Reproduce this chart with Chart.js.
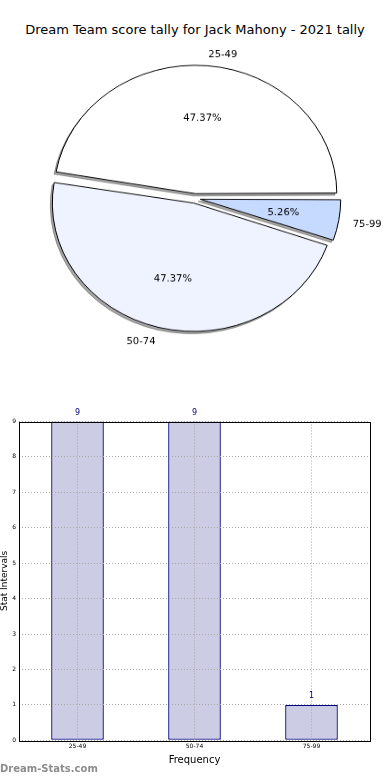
<!DOCTYPE html>
<html>
<head>
<meta charset="utf-8">
<script src="https://cdn.jsdelivr.net/npm/chart.js@4.4.0/dist/chart.umd.min.js"></script>
<style>
  body { margin: 0; background: #fff; width: 390px; height: 780px; position: relative; overflow: hidden; font-family: "DejaVu Sans", sans-serif; }
  #title { position: absolute; top: 21px; left: 0; width: 390px; text-align: center; font-size: 13px; line-height: 18px; color: #000; }
  #pieWrap { position: absolute; left: 0; top: 0; width: 390px; height: 437px; transform: scaleY(0.908); transform-origin: 0 0; }
  #barWrap { position: absolute; left: 0; top: 400px; width: 390px; height: 380px; }
  #mark { position: absolute; left: 0; top: 763px; font-size: 10px; line-height: 12px; font-weight: bold; color: #8c8c8c; }
</style>
</head>
<body>
<div id="title">Dream Team score tally for Jack Mahony - 2021 tally</div>
<div id="pieWrap"><canvas id="pie" width="390" height="437"></canvas></div>
<div id="barWrap"><canvas id="bar" width="390" height="380"></canvas></div>
<div id="mark">Dream-Stats.com</div>

<script>
// Data
const categories = ["25-49", "50-74", "75-99"];
const counts = [9, 9, 1];
const yMin = 0;
const yMax = 9;

const pieColors = ["#ffffff", "#eef3ff", "#c6d9ff"];
const font = "DejaVu Sans";
const squash = 0.908;   // matplotlib pie is an ellipse here

// pie goes clockwise in Chart.js, matplotlib went counter-clockwise
const pieLabels = categories.slice().reverse();
const pieCounts = counts.slice().reverse();
const pieFill = pieColors.slice().reverse();
const total = counts.reduce((a, b) => a + b, 0);

function squashText(ctx, text, x, y, align) {
    ctx.save();
    ctx.translate(x, y);
    ctx.scale(1, 1 / squash);
    ctx.textAlign = align;
    ctx.textBaseline = "middle";
    ctx.fillText(text, 0, 0);
    ctx.restore();
}

// shadow under the slices + labels on top
const pieDecor = {
    id: "pieDecor",
    beforeDatasetsDraw(chart) {
        let ctx = chart.ctx;
        chart.getDatasetMeta(0).data.forEach(arc => {
            let shadow = Object.create(arc);
            shadow.options = Object.assign({}, arc.options, {
                backgroundColor: "rgba(77,77,77,0.5)",
                borderColor: "rgba(77,77,77,0.5)"
            });
            ctx.save();
            ctx.translate(-2, 2.5);
            arc.draw.call(shadow, ctx);
            ctx.restore();
        });
    },
    afterDatasetsDraw(chart) {
        let ctx = chart.ctx;
        ctx.save();
        ctx.fillStyle = "#000";
        ctx.font = "10px '" + font + "'";
        chart.getDatasetMeta(0).data.forEach((arc, i) => {
            let shift = (arc.options.offset || 0) / 4;
            let r = arc.outerRadius + shift * (1 - Math.sin(Math.min(Math.PI, arc.circumference)));
            let mid = (arc.startAngle + arc.endAngle) / 2;
            let cx = arc.x + Math.cos(mid) * shift;
            let cy = arc.y + Math.sin(mid) * shift;

            let lx = cx + Math.cos(mid) * r * 1.1;
            let ly = cy + Math.sin(mid) * r * 1.1;
            squashText(ctx, pieLabels[i], lx, ly + 2, Math.cos(mid) > 0 ? "left" : "right");

            let pct = (pieCounts[i] / total * 100).toFixed(2) + "%";
            squashText(ctx, pct, cx + Math.cos(mid) * r * 0.6, cy + Math.sin(mid) * r * 0.6 + 1, "center");
        });
        ctx.restore();
    }
};

new Chart(document.getElementById("pie"), {
    type: "pie",
    data: {
        labels: pieLabels,
        datasets: [{
            data: pieCounts,
            backgroundColor: pieFill,
            borderColor: "#000",
            borderWidth: 1,
            offset: 21
        }]
    },
    options: {
        responsive: false,
        animation: false,
        rotation: 90,
        radius: 137,
        layout: { padding: 0 },
        plugins: { legend: { display: false }, tooltip: { enabled: false } }
    },
    plugins: [pieDecor]
});

// frame + value labels for the bars
const barDecor = {
    id: "barDecor",
    afterDraw(chart) {
        let ctx = chart.ctx;
        let a = chart.chartArea;
        ctx.save();
        ctx.strokeStyle = "#000";
        ctx.lineWidth = 1;
        ctx.strokeRect(Math.round(a.left) + 0.5, Math.round(a.top) + 0.5,
            Math.round(a.right - a.left), Math.round(a.bottom - a.top));
        ctx.fillStyle = "#000080";
        ctx.font = "8px '" + font + "'";
        ctx.textAlign = "center";
        ctx.textBaseline = "middle";
        chart.getDatasetMeta(0).data.forEach((bar, i) => {
            ctx.fillText(String(counts[i]), bar.x, bar.y - 8.5);
        });
        ctx.restore();
    }
};

new Chart(document.getElementById("bar"), {
    type: "bar",
    data: {
        labels: categories,
        datasets: [{
            data: counts,
            backgroundColor: "#cccce4",
            borderColor: "#000080",
            borderWidth: 1.3,
            borderSkipped: false,
            barPercentage: 0.45,
            categoryPercentage: 1
        }]
    },
    options: {
        responsive: false,
        animation: false,
        layout: { padding: { top: 21.5, right: 20, left: 0, bottom: 0 } },
        plugins: { legend: { display: false }, tooltip: { enabled: false } },
        scales: {
            x: {
                grid: { offset: false, color: "#a8a8a8", drawTicks: false, z: 1 },
                border: { display: false, dash: [1, 2] },
                ticks: { color: "#000", font: { family: font, size: 6 }, padding: 3 },
                title: { display: true, text: "Frequency", color: "#000", font: { family: font, size: 10 }, padding: { top: 0, bottom: 14 } },
                afterFit(s) { s.height = 39.7; }
            },
            y: {
                min: yMin,
                max: yMax,
                grid: { color: "#a8a8a8", drawTicks: false, z: 1 },
                border: { display: false, dash: [1, 2] },
                ticks: { stepSize: 1, color: "#000", font: { family: font, size: 6 }, padding: 3 },
                title: { display: true, text: "Stat Intervals", color: "#000", font: { family: font, size: 9, lineHeight: 1 }, padding: 0 },
                afterFit(s) { s.width = 19; }
            }
        }
    },
    plugins: [barDecor]
});
</script>
</body>
</html>
